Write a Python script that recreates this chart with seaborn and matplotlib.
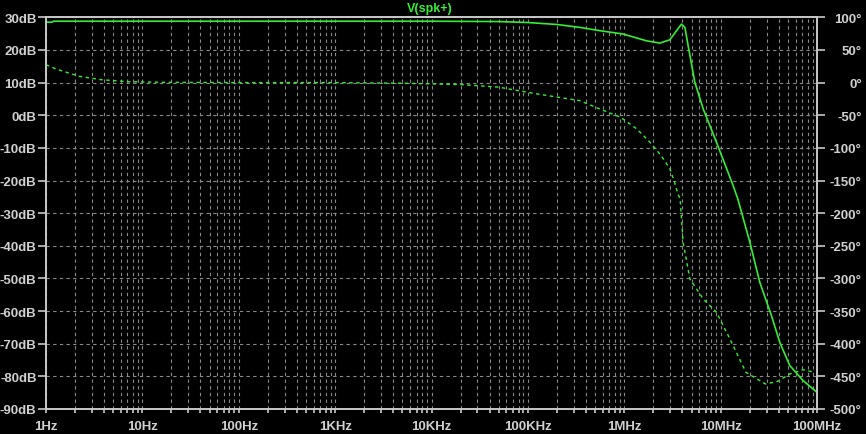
import matplotlib
matplotlib.use("Agg")
import matplotlib.pyplot as plt
import matplotlib.ticker as mticker
import seaborn as sns
import numpy as np
import pandas as pd

# magnitude trace (Hz, dB)
mag_freq = [1, 1.15, 1.2, 10, 100, 1e3, 1e4, 5e4, 1e5, 2e5, 3.47e5, 5.58e5, 9.66e5,
            1.7e6, 2.34e6, 2.97e6, 3.49e6, 3.93e6, 4.26e6, 4.6e6, 5.4e6, 6.6e6,
            9.06e6, 1.35e7, 1.51e7, 2.01e7, 2.55e7, 3.37e7, 4.11e7, 5.22e7,
            7.18e7, 1.0e8]
mag_db = [28.5, 28.5, 28.8, 28.8, 28.8, 28.8, 28.8, 28.7, 28.4, 27.8, 26.9, 25.9, 24.9,
          22.8, 22.1, 23.1, 25.9, 27.9, 26.9, 21.3, 10.1, 1.9,
          -8.3, -21.6, -25.7, -38.9, -51.2, -61.4, -69.6, -76.7,
          -81.3, -84.9]

# phase trace (Hz, degrees)
ph_freq = [1, 1.27, 2.22, 3.76, 7.2, 17, 100, 1e3, 5e3, 2e4, 5e4, 1.2e5, 3.47e5,
           5.58e5, 9.14e5, 1.35e6, 1.85e6, 2.42e6, 2.97e6, 3.33e6, 3.6e6, 3.8e6,
           4.08e6, 4.8e6, 6.6e6, 9.06e6, 1.25e7, 1.83e7, 2.92e7, 3.86e7, 5.22e7,
           7.18e7, 9.46e7]
ph_deg = [27.4, 20.8, 9.6, 4.4, 1.3, 0.4, 0, 0, -1, -3, -7, -17, -27.7,
          -40.5, -53, -71, -91.5, -112, -132, -153, -170.7, -178,
          -244.7, -300.9, -331.5, -351.9, -392.8, -443.8, -461.7, -458, -446.4,
          -439.8, -443.8]

dec_labels = ["1Hz", "10Hz", "100Hz", "1KHz", "10KHz", "100KHz", "1MHz", "10MHz", "100MHz"]
db_ticks = list(range(-90, 31, 10))
deg_ticks = list(range(-500, 101, 50))

trace = "#33ee33"
axcol = "#c8c8c8"
gridcol = "#8a8a8a"
txtcol = "#d0d0d0"

sns.set_style("dark", {"axes.facecolor": "black", "figure.facecolor": "black"})
plt.rcParams["font.family"] = ["Liberation Sans", "DejaVu Sans"]

fig = plt.figure(figsize=(8.66, 4.35), dpi=100)
ax = fig.add_axes([46 / 866, 25 / 435, 771 / 866, 391.7 / 435])
ax2 = ax.twinx()

mag = pd.DataFrame({"f": mag_freq, "db": mag_db})
ph = pd.DataFrame({"f": ph_freq, "deg": ph_deg})
sns.lineplot(data=mag, x="f", y="db", ax=ax, color=trace, lw=1.2)
sns.lineplot(data=ph, x="f", y="deg", ax=ax2, color=trace, lw=1.0, dashes=False)
ax2.lines[0].set_dashes([2.5, 2.5])

for a in (ax, ax2):
    a.set_xscale("log")
    a.set_xlim(1, 1e8)
    a.set_xlabel("")
    a.set_ylabel("")
    a.set_facecolor("black")
    for s in a.spines.values():
        s.set_color(axcol)
        s.set_linewidth(1.2)

ax.set_ylim(-90, 30)
ax2.set_ylim(-500, 100)
ax.set_yticks(db_ticks)
ax.set_yticklabels([f"{v}dB" for v in db_ticks])
ax2.set_yticks(deg_ticks)
ax2.set_yticklabels([f"{v}\u00b0" for v in deg_ticks])
ax.set_xticks([10 ** i for i in range(9)])
ax.set_xticklabels(dec_labels)
ax.xaxis.set_minor_locator(mticker.LogLocator(base=10, subs=np.arange(2, 10), numticks=100))
ax.xaxis.set_minor_formatter(mticker.NullFormatter())

ax.grid(True, which="both", axis="x", color=gridcol, ls=(0, (3, 3)), lw=0.8)
ax.grid(True, which="major", axis="y", color=gridcol, ls=(0, (3, 3)), lw=0.8)
ax2.grid(False)
ax.set_axisbelow(True)

ax.tick_params(axis="y", which="major", length=5.8, width=1.2, color=axcol, labelcolor=txtcol,
               labelsize=9.5, pad=1, left=True)
ax.tick_params(axis="x", which="both", length=3, width=1.2, color=axcol, labelcolor=txtcol,
               labelsize=9.5, pad=5, bottom=True)
ax2.tick_params(axis="y", which="major", length=5.8, width=1.2, color=axcol, labelcolor=txtcol,
                labelsize=9.5, pad=26.5, right=True)
for lab in ax.get_xticklabels() + ax.get_yticklabels():
    lab.set_fontweight("bold")
for lab in ax2.get_yticklabels():
    lab.set_fontweight("bold")
    lab.set_horizontalalignment("right")

fig.text(430 / 866, 1 - 9 / 435, "V(spk+)", color=trace, fontsize=9, fontweight="bold",
         ha="center", va="center")

fig.savefig("out.png", dpi=100, facecolor="black")
